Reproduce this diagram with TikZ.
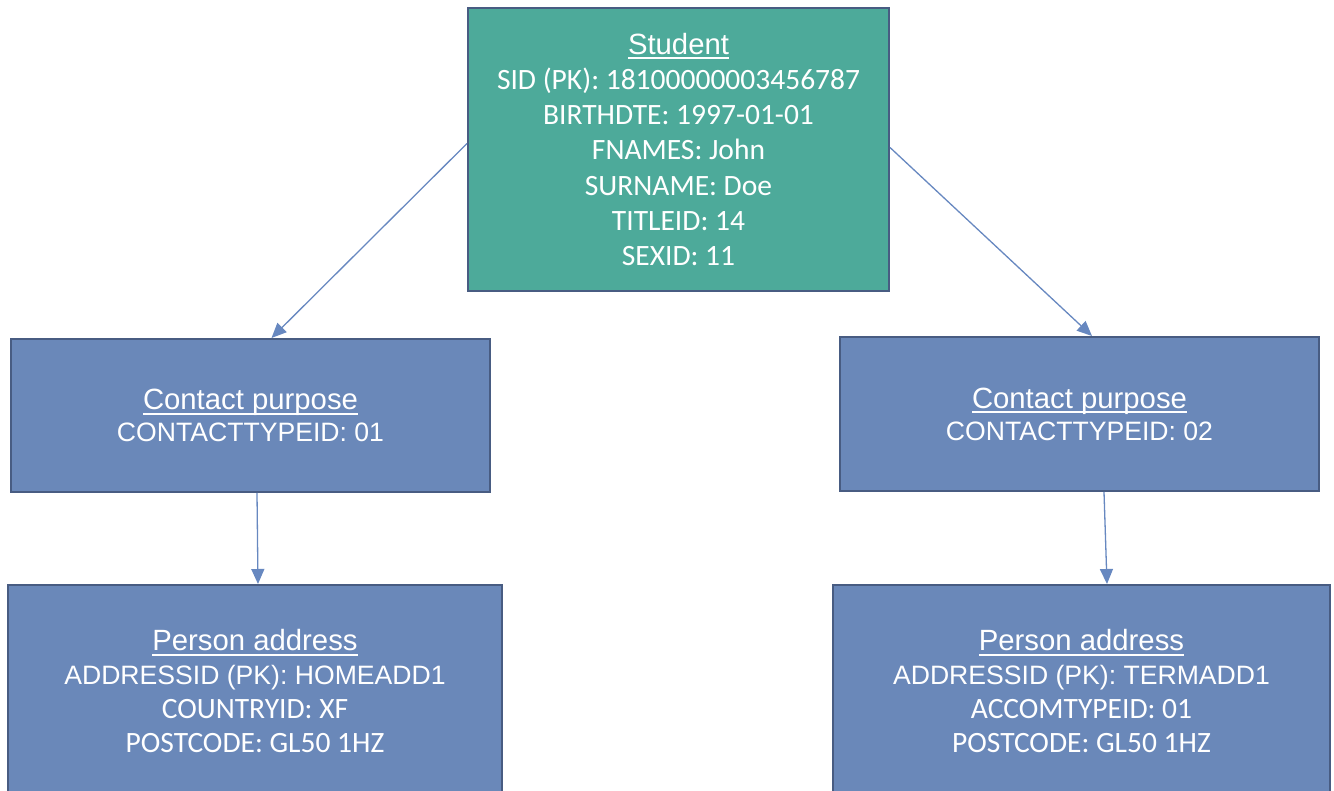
\documentclass[tikz,border=0pt]{standalone}
\usepackage{fontspec}
\setmainfont{Carlito}
\newfontfamily\arialfont{Liberation Sans}
\usepackage{xcolor}
\usetikzlibrary{arrows.meta}
\definecolor{tealfill}{RGB}{77,170,154}
\definecolor{bluefill}{RGB}{106,136,185}
\definecolor{boxline}{RGB}{72,92,130}
\definecolor{arrowline}{RGB}{103,136,192}
\newcommand{\titleline}[1]{\setbox0\hbox{\arialfont\fontsize{29.3}{34}\selectfont #1}\rlap{\rule[-5pt]{\wd0}{2pt}}\box0}
\tikzset{
	entity/.style={draw=boxline,line width=2pt,text=white,align=center,inner sep=0pt},
	link/.style={color=arrowline,line width=1.3pt,-{Triangle[length=15pt,width=13pt]}}
}

\begin{document}
\begin{tikzpicture}[x=1pt,y=-1pt]
	\useasboundingbox (0,0) rectangle (1334,791);
	\node[entity,fill=tealfill,minimum width=421pt,minimum height=283pt,
		font=\fontsize{29.5}{35.2}\selectfont] (A) at (678.5,149.5)
		{\titleline{Student}\\SID (PK): 18100000003456787\\BIRTHDTE: 1997-01-01\\
		FNAMES: John\\SURNAME: Doe\\TITLEID: 14\\SEXID: 11};
	\node[entity,fill=bluefill,minimum width=479pt,minimum height=153pt,
		font=\arialfont\fontsize{26.6}{32}\selectfont] (B) at (250.5,415.5)
		{\titleline{Contact purpose}\\CONTACTTYPEID: 01};
	\node[entity,fill=bluefill,minimum width=479pt,minimum height=154pt,
		font=\arialfont\fontsize{26.6}{32}\selectfont] (C) at (1079.5,414)
		{\titleline{Contact purpose}\\CONTACTTYPEID: 02};
	\node[entity,fill=bluefill,minimum width=494pt,minimum height=212pt,
		font=\fontsize{29.5}{34}\selectfont] (D) at (255,691)
		{\titleline{Person address}\\{\arialfont\fontsize{26.6}{34}\selectfont ADDRESSID (PK): HOMEADD1}\\
		COUNTRYID: XF\\POSTCODE: GL50 1HZ};
	\node[entity,fill=bluefill,minimum width=497pt,minimum height=212pt,
		font=\fontsize{29.5}{34}\selectfont] (E) at (1081.5,691)
		{\titleline{Person address}\\{\arialfont\fontsize{26.6}{34}\selectfont ADDRESSID (PK): TERMADD1}\\
		ACCOMTYPEID: 01\\POSTCODE: GL50 1HZ};
	%
	\path
	([yshift=6pt]A.west) edge[link] ([xshift=21pt]B.north)
	([yshift=2pt]A.east) edge[link] ([xshift=12.5pt]C.north)
	([xshift=6.5pt]B.south) edge[link] ([xshift=3pt]D.north)
	([xshift=24.5pt]C.south) edge[link] ([xshift=25.5pt]E.north);
\end{tikzpicture}
\end{document}
